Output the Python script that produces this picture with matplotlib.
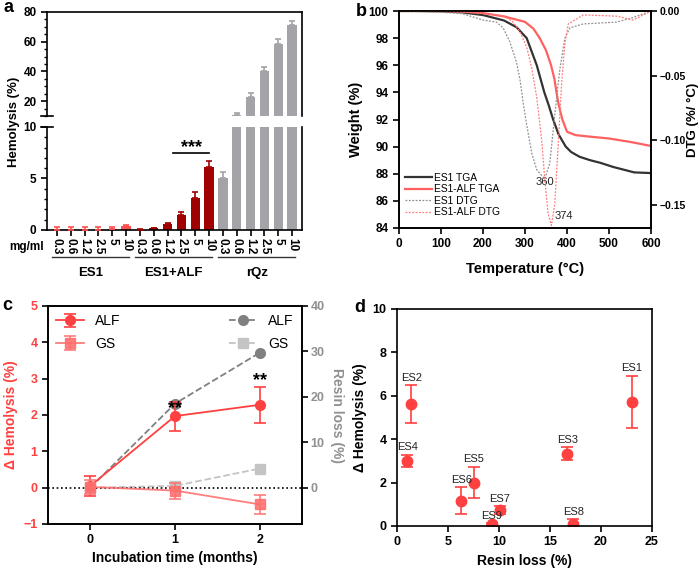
import matplotlib
matplotlib.use('Agg')
import matplotlib.pyplot as plt
import matplotlib.transforms as mtrans
import numpy as np
from matplotlib.ticker import MultipleLocator

plt.rcParams['font.family'] = ['Liberation Sans', 'DejaVu Sans']
plt.rcParams['font.weight'] = 'bold'
plt.rcParams['axes.labelweight'] = 'bold'
plt.rcParams['axes.linewidth'] = 1.2
plt.rcParams['xtick.major.width'] = 1.2
plt.rcParams['ytick.major.width'] = 1.2
plt.rcParams['xtick.minor.width'] = 1.0
plt.rcParams['ytick.minor.width'] = 1.0

# ---------------- data: panel a ----------------
conc_labels = ['0.3', '0.6', '1.2', '2.5', '5', '10']
groups = ['ES1', 'ES1+ALF', 'rQz']
hemo_es1 = [0.03, 0.03, 0.03, 0.03, 0.12, 0.35]
hemo_es1_err = [0.27, 0.27, 0.27, 0.27, 0.18, 0.17]
hemo_alf = [0.04, 0.15, 0.6, 1.45, 3.1, 6.1]
hemo_alf_err = [0.02, 0.05, 0.12, 0.32, 0.55, 0.62]
hemo_rqz = [5.0, 11.0, 23.0, 40.0, 58.5, 71.0]
hemo_rqz_err = [0.62, 1.0, 2.2, 2.8, 3.0, 3.0]

# ---------------- data: panel b ----------------
tga_es1_T = [0, 50, 100, 150, 200, 250, 280, 304, 328, 346, 357, 367, 380, 397, 410, 430, 455, 480, 510, 560, 600]
tga_es1_W = [100, 100, 99.98, 99.9, 99.7, 99.3, 98.8, 98.0, 96.0, 94.0, 93.0, 92.0, 90.9, 90.0, 89.6, 89.25, 89.0, 88.8, 88.5, 88.1, 88.05]
tga_alf_T = [0, 100, 150, 200, 250, 300, 320, 335, 350, 362, 370, 375, 380, 389, 400, 420, 450, 500, 550, 600]
tga_alf_W = [100, 100, 99.95, 99.85, 99.6, 99.2, 98.7, 98.0, 97.1, 96.0, 95.0, 94.0, 93.1, 92.0, 91.1, 90.85, 90.75, 90.6, 90.35, 90.05]
dtg_es1_T = [0, 100, 150, 180, 200, 232, 248, 264, 280, 288, 296, 304, 316, 328, 347, 359, 371, 383, 395, 407, 439, 518, 558, 600]
dtg_es1_V = [0, -0.001, -0.002, -0.005, -0.007, -0.0086, -0.013, -0.024, -0.040, -0.053, -0.072, -0.088, -0.110, -0.123, -0.130, -0.118, -0.080, -0.045, -0.021, -0.013, -0.010, -0.0086, -0.005, 0]
dtg_alf_T = [0, 150, 200, 250, 270, 288, 304, 316, 328, 340, 347, 355, 363, 371, 379, 387, 395, 403, 439, 518, 558, 582, 600]
dtg_alf_V = [0, -0.0005, -0.002, -0.004, -0.008, -0.016, -0.028, -0.044, -0.067, -0.101, -0.130, -0.157, -0.166, -0.149, -0.104, -0.057, -0.025, -0.010, -0.003, -0.004, -0.007, -0.003, 0]

# ---------------- data: panel c ----------------
months = [0, 1, 2]
dh_alf = [0.05, 1.97, 2.28]
dh_alf_err = [0.28, 0.40, 0.50]
dh_gs = [0.02, -0.08, -0.46]
dh_gs_err = [0.20, 0.22, 0.26]
rl_alf = [0.0, 18.5, 29.7]
rl_gs = [0.0, 0.4, 4.2]

# ---------------- data: panel d ----------------
samples = ['ES1', 'ES2', 'ES3', 'ES4', 'ES5', 'ES6', 'ES7', 'ES8', 'ES9']
resin_loss = [23.0, 1.4, 16.7, 1.0, 7.5, 6.3, 10.1, 17.3, 9.3]
d_hemo = [5.73, 5.62, 3.32, 3.0, 2.0, 1.16, 0.72, 0.08, 0.08]
d_hemo_err = [1.2, 0.87, 0.3, 0.28, 0.72, 0.62, 0.19, 0.22, 0.04]

RED = '#ff4040'
RED_L = '#ff7070'
DARKRED = '#a00000'
BAR_RED = '#ff5050'
GREY_BAR = '#a3a3a8'
G1 = '#808080'
G2 = '#c4c4c4'

fig = plt.figure(figsize=(7, 5.7), dpi=100)
W, H = 700.0, 570.0

def rect(l, t, r, b):
    return [l / W, 1 - b / H, (r - l) / W, (b - t) / H]

TS = 8.5  # tick size

# ================= panel a =================
ax_up = fig.add_axes(rect(47, 12, 302, 116))
ax_lo = fig.add_axes(rect(47, 127, 302, 230))
x = np.arange(18)
vals = hemo_es1 + hemo_alf + hemo_rqz
errs = hemo_es1_err + hemo_alf_err + hemo_rqz_err
cols = [BAR_RED] * 6 + [DARKRED] * 6 + [GREY_BAR] * 6
for ax in (ax_up, ax_lo):
    for i in range(18):
        ax.bar(x[i], vals[i], width=0.68, color=cols[i], zorder=2)
        ax.errorbar(x[i], vals[i], yerr=[[0], [errs[i]]], fmt='none', ecolor=cols[i],
                    elinewidth=1.2, capsize=2.5, capthick=1.2, zorder=3)
    ax.set_xlim(-0.72, 17.72)
ax_up.set_ylim(10, 80)
ax_lo.set_ylim(0, 10)
ax_up.spines['bottom'].set_visible(False)
ax_lo.spines['top'].set_visible(False)
ax_up.set_xticks([])
ax_up.set_yticks([20, 40, 60, 80])
ax_up.yaxis.set_minor_locator(MultipleLocator(5))
ax_lo.yaxis.set_major_locator(MultipleLocator(5))
ax_lo.yaxis.set_minor_locator(MultipleLocator(1))
for ax in (ax_up, ax_lo):
    ax.tick_params(axis='y', which='major', length=4, labelsize=TS)
    ax.tick_params(axis='y', which='minor', length=2.5)
ax_lo.set_xticks(x)
ax_lo.set_xticklabels(conc_labels * 3, rotation=-90, fontsize=TS)
ax_lo.tick_params(axis='x', length=4, pad=2)
# break marks
for ax, yy in ((ax_up, 0), (ax_lo, 1)):
    ax.plot([-0.025, 0.025], [yy, yy], transform=ax.transAxes, color='black', lw=1.2, clip_on=False)
fig.text(14 / W, 1 - 122 / H, 'Hemolysis (%)', rotation=90, ha='center', va='center',
         fontsize=9.5, fontweight='bold')
fig.text(27 / W, 1 - 247 / H, 'mg/ml', ha='center', va='center', fontsize=TS, fontweight='bold')
trans = mtrans.blended_transform_factory(ax_lo.transData, ax_lo.transAxes)
for gi, g in enumerate(groups):
    ax_lo.plot([gi * 6 - 0.35, gi * 6 + 5.2], [-0.262, -0.262], transform=trans, color='#333333',
               lw=1.0, clip_on=False)
    ax_lo.text(gi * 6 + 2.45, -0.42, g, transform=trans, ha='center', va='center', fontsize=9.5,
               fontweight='bold')
ax_lo.plot([8.4, 11.0], [7.47, 7.47], color='black', lw=1.2)
ax_lo.text(9.75, 8.0, '***', ha='center', va='center', fontsize=13, fontweight='bold')

# ================= panel b =================
ax_b = fig.add_axes(rect(399, 11, 651, 228))
ax_b2 = ax_b.twinx()
l1, = ax_b.plot(tga_es1_T, tga_es1_W, color='#333333', lw=1.6, label='ES1 TGA')
l2, = ax_b.plot(tga_alf_T, tga_alf_W, color='#ff6060', lw=1.6, label='ES1-ALF TGA')
l3, = ax_b2.plot(dtg_es1_T, dtg_es1_V, color='#909090', lw=0.9, ls=(0, (1.5, 1.2)), label='ES1 DTG')
l4, = ax_b2.plot(dtg_alf_T, dtg_alf_V, color='#ff7a7a', lw=0.9, ls=(0, (1.5, 1.2)), label='ES1-ALF DTG')
ax_b.set_xlim(0, 600)
ax_b.set_ylim(84, 100)
ax_b2.set_ylim(-0.168, 0)
ax_b.set_xticks(range(0, 601, 100))
ax_b.set_yticks(range(84, 101, 2))
ax_b2.set_yticks([0, -0.05, -0.10, -0.15])
ax_b2.set_yticklabels(['0.00', '\u22120.05', '\u22120.10', '\u22120.15'])
ax_b.tick_params(length=4, labelsize=TS)
ax_b2.tick_params(length=4, labelsize=7.5, pad=2)
ax_b.set_xlabel('Temperature (\u00b0C)', fontsize=10.5, labelpad=8)
ax_b.set_ylabel('Weight (%)', fontsize=10.5, labelpad=4)
fig.text(693 / W, 1 - 120 / H, 'DTG (%/ \u00b0C)', rotation=90, ha='center', va='center',
         fontsize=9.5, fontweight='bold')
ax_b.text(347, 87.4, '360', ha='center', va='center', fontsize=8, fontweight='normal', color='#222222')
ax_b.text(392, 84.85, '374', ha='center', va='center', fontsize=8, fontweight='normal', color='#222222')
ax_b.legend(handles=[l1, l2, l3, l4], loc='lower left', bbox_to_anchor=(0.0, 0.02),
            frameon=False, handlelength=2.6, labelspacing=0.15,
            handletextpad=0.2, borderaxespad=0.2, prop={'weight': 'normal', 'size': 7.4})

# ================= panel c =================
ax_c = fig.add_axes(rect(48, 306, 302, 524))
ax_c2 = ax_c.twinx()
ax_c.axhline(0, color='black', lw=1.2, ls=(0, (1, 1.6)), zorder=1)
ga, = ax_c2.plot(months, rl_alf, color=G1, ls='--', lw=1.3, marker='o', ms=7, label='ALF', zorder=2)
gg, = ax_c2.plot(months, rl_gs, color=G2, ls='--', lw=1.3, marker='s', ms=7, label='GS', zorder=2)
ax_c.set_zorder(ax_c2.get_zorder() + 1)
ax_c.patch.set_visible(False)
ra = ax_c.errorbar(months, dh_alf, yerr=dh_alf_err, color=RED, lw=1.3, marker='o', ms=7,
                   capsize=4, capthick=1.2, elinewidth=1.2, label='ALF')
rg = ax_c.errorbar(months, dh_gs, yerr=dh_gs_err, color=RED_L, lw=1.3, marker='s', ms=7,
                   capsize=4, capthick=1.2, elinewidth=1.2, label='GS', alpha=0.9)
ax_c.set_xlim(-0.5, 2.5)
ax_c.set_ylim(-1, 5)
ax_c2.set_ylim(-8, 40)
ax_c.set_xticks(months)
ax_c.set_yticks(range(-1, 6))
ax_c2.set_yticks([0, 10, 20, 30, 40])
ax_c.tick_params(axis='y', labelcolor=RED, length=4, labelsize=TS + 0.5)
ax_c.tick_params(axis='x', length=4, labelsize=TS + 0.5)
ax_c2.tick_params(axis='y', labelcolor='#909090', length=4, labelsize=TS + 0.5, pad=2)
ax_c.set_ylabel('\u0394 Hemolysis (%)', color=RED, fontsize=10, labelpad=4)
fig.text(337 / W, 1 - 415 / H, 'Resin loss (%)', rotation=270, ha='center', va='center',
         color='#909090', fontsize=10, fontweight='bold')
ax_c.set_xlabel('Incubation time (months)', fontsize=10, labelpad=3)
ax_c.text(1, 2.17, '**', ha='center', va='center', fontsize=13, fontweight='bold')
ax_c.text(2, 2.96, '**', ha='center', va='center', fontsize=13, fontweight='bold')
ax_c.legend(handles=[ra, rg], loc='upper left', frameon=False, prop={'weight': 'normal', 'size': 10},
            handlelength=2.0, labelspacing=0.6, borderaxespad=0.2, handletextpad=0.8)
ax_c2.legend(handles=[ga, gg], loc='upper right', frameon=False, prop={'weight': 'normal', 'size': 10},
             handlelength=2.0, labelspacing=0.6, borderaxespad=0.2, handletextpad=0.8)

# ================= panel d =================
ax_d = fig.add_axes(rect(397, 309, 652, 526))
ax_d.errorbar(resin_loss, d_hemo, yerr=d_hemo_err, fmt='o', color=RED, ms=7.5, capsize=4,
              capthick=1.2, elinewidth=1.2)
for name, xx, yy, ee in zip(samples, resin_loss, d_hemo, d_hemo_err):
    ax_d.text(xx, yy + ee + 0.12, name, ha='center', va='bottom', fontsize=8, fontweight='normal',
              color='#222222')
ax_d.set_xlim(0, 25)
ax_d.set_ylim(0, 10)
ax_d.set_xticks(range(0, 26, 5))
ax_d.set_yticks(range(0, 11, 2))
ax_d.tick_params(length=4, labelsize=TS + 0.5)
ax_d.set_xlabel('Resin loss (%)', fontsize=10, labelpad=4)
ax_d.set_ylabel('\u0394 Hemolysis (%)', fontsize=10, labelpad=4)

# panel letters
for lt, px, py in (('a', 8, 8), ('b', 361, 11), ('c', 7, 305), ('d', 360, 307)):
    fig.text(px / W, 1 - py / H, lt, ha='center', va='center', fontsize=13, fontweight='bold')

fig.savefig('out.png', dpi=100)
